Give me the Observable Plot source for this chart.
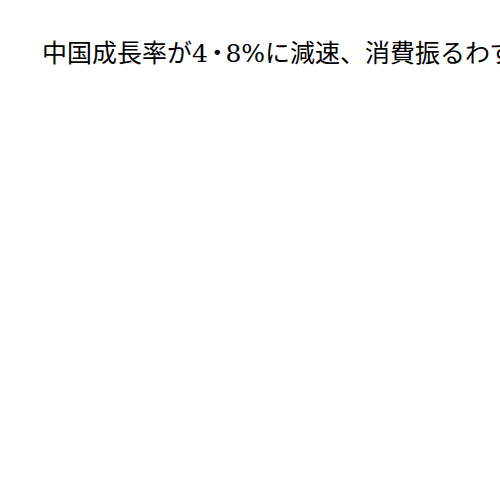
<!DOCTYPE html>
<html><head><meta charset="utf-8">
<script src="https://cdn.jsdelivr.net/npm/d3@7"></script>
<script src="https://cdn.jsdelivr.net/npm/@observablehq/plot@0.6"></script>
<style>
html,body{margin:0;padding:0;background:#fff;width:500px;height:500px;overflow:hidden;}
#title{position:absolute;left:42px;top:41px;margin:0;font-family:"DejaVu Serif","Noto Sans CJK JP",serif;font-weight:normal;font-size:25px;line-height:25px;white-space:nowrap;color:#000;}
#title .half{font-feature-settings:"halt";padding:0 2px 0 3px;}
#chart{position:absolute;left:0;top:90px;}
</style></head>
<body>
<h2 id="title"></h2>
<div id="chart"></div>
<script>
const titleParts = ["中国成長率が4", "・", "8%に減速、消費振るわず"];
const categories = [];
const values = [];
const t = d3.select("#title");
titleParts.forEach((p, i) => t.append("span").attr("class", i === 1 ? "half" : null).text(p));
const data = categories.map((c, i) => ({c, v: values[i]}));
const chart = Plot.plot({
  width: 500, height: 400, axis: null,
  marks: [Plot.barY(data, {x: "c", y: "v"})]
});
document.getElementById("chart").appendChild(chart);
</script>
</body></html>
